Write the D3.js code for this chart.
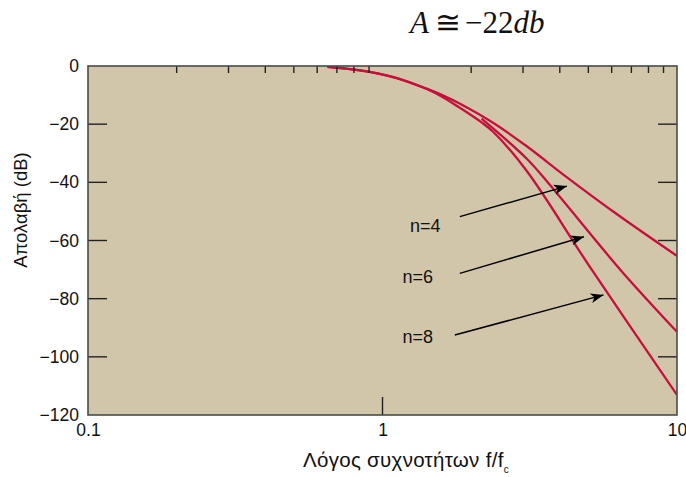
<!DOCTYPE html>
<html>
<head>
<meta charset="utf-8">
<script src="https://cdn.jsdelivr.net/npm/d3@7/dist/d3.min.js"></script>
<style>
  body { margin: 0; background: #fff; }
  svg { display: block; }
</style>
</head>
<body>
<div id="chart"></div>
<script>
// Curve data (f/fc, gain in dB)
const n4Freq = [0.65, 0.838, 1.088, 1.413, 1.609, 1.833, 2.38, 3.09, 4.22, 6.24, 10];
const n4Gain = [-0.3, -1.5, -3.8, -7.8, -10.2, -13.0, -19.6, -27.6, -38.2, -50.9, -65.3];

const n6Freq = [2.17, 3.09, 3.71, 6.44, 10];
const n6Gain = [-18.1, -31.9, -41.0, -70.2, -91.4];

const n8Freq = [0.65, 0.838, 1.088, 1.413, 1.609, 1.833, 2.17, 2.38, 3.09, 5.04, 10];
const n8Gain = [-0.3, -1.5, -3.8, -7.9, -10.8, -14.4, -19.4, -22.7, -36.1, -68.8, -113.1];

// Annotations: label position, arrow tail and tip (f/fc, dB)
const labelText = ["n=4", "n=6", "n=8"];
const labelPos = [[1.24, -57.1], [1.17, -74.6], [1.17, -95.3]];
const arrowTail = [[1.83, -51.8], [1.83, -71.3], [1.76, -92.5]];
const arrowTip = [[4.23, -41.3], [4.83, -58.7], [5.63, -78.7]];

// Axis ticks
const yLabels = [0, -20, -40, -60, -80, -100, -120];
const yInnerTicks = [-20, -40, -60, -80, -100];
const xLabels = [0.1, 1, 10];
const xMinorTicks = [0.2, 0.3, 0.4, 0.5, 0.6, 0.7, 0.8, 0.9, 2, 3, 4, 5, 6, 7, 8, 9];

const width = 686;
const height = 477;
const plot = { left: 88, right: 677, top: 66, bottom: 415 };

const svg = d3.select("#chart").append("svg")
  .attr("width", width)
  .attr("height", height);

const x = d3.scaleLog().domain([0.1, 10]).range([plot.left, plot.right]);
const y = d3.scaleLinear().domain([-120, 0]).range([plot.bottom, plot.top]);

// Plot background
svg.append("rect")
  .attr("x", plot.left)
  .attr("y", plot.top)
  .attr("width", plot.right - plot.left)
  .attr("height", plot.bottom - plot.top)
  .attr("fill", "#d2c6aa");

svg.append("defs").append("clipPath")
  .attr("id", "clip")
  .append("rect")
  .attr("x", plot.left)
  .attr("y", plot.top)
  .attr("width", plot.right - plot.left)
  .attr("height", plot.bottom - plot.top);

svg.append("defs").append("marker")
  .attr("id", "arrow")
  .attr("markerUnits", "userSpaceOnUse")
  .attr("viewBox", "-14 -6 16 12")
  .attr("markerWidth", 16)
  .attr("markerHeight", 12)
  .attr("refX", 0)
  .attr("refY", 0)
  .attr("orient", "auto")
  .append("path")
  .attr("d", "M0,0 L-13,-5 L-9.5,0 L-13,5 Z")
  .attr("fill", "#000");

// Curves
const line = d3.line()
  .x(d => x(d[0]))
  .y(d => y(d[1]))
  .curve(d3.curveCatmullRom.alpha(0.5));

const series = [
  d3.zip(n4Freq, n4Gain),
  d3.zip(n8Freq, n8Gain),
  d3.zip(n6Freq, n6Gain)
];

svg.append("g")
  .attr("clip-path", "url(#clip)")
  .selectAll("path")
  .data(series)
  .enter()
  .append("path")
  .attr("d", line)
  .attr("fill", "none")
  .attr("stroke", "#c60f3b")
  .attr("stroke-width", 2.3);

// Inward ticks
const tickColor = "#222";

svg.append("g")
  .selectAll("line.left")
  .data(yInnerTicks)
  .enter()
  .append("line")
  .attr("x1", plot.left).attr("x2", plot.left + 19)
  .attr("y1", d => y(d)).attr("y2", d => y(d))
  .attr("stroke", tickColor).attr("stroke-width", 1.4);

svg.append("g")
  .selectAll("line.right")
  .data(yInnerTicks)
  .enter()
  .append("line")
  .attr("x1", plot.right - 19).attr("x2", plot.right)
  .attr("y1", d => y(d)).attr("y2", d => y(d))
  .attr("stroke", tickColor).attr("stroke-width", 1.4);

svg.append("g")
  .selectAll("line")
  .data(xMinorTicks)
  .enter()
  .append("line")
  .attr("x1", d => x(d)).attr("x2", d => x(d))
  .attr("y1", plot.top).attr("y2", plot.top + 7)
  .attr("stroke", tickColor).attr("stroke-width", 1.4);

svg.append("line")
  .attr("x1", x(1)).attr("x2", x(1))
  .attr("y1", plot.bottom - 18).attr("y2", plot.bottom)
  .attr("stroke", tickColor).attr("stroke-width", 1.4);

// Frame
svg.append("rect")
  .attr("x", plot.left)
  .attr("y", plot.top)
  .attr("width", plot.right - plot.left)
  .attr("height", plot.bottom - plot.top)
  .attr("fill", "none")
  .attr("stroke", "#4a4a4a")
  .attr("stroke-width", 1.6);

// Tick labels
const yAxis = svg.append("g")
  .attr("transform", "translate(" + plot.left + ",0)")
  .call(d3.axisLeft(y).tickValues(yLabels).tickSize(0).tickPadding(9).tickFormat(d3.format("d")));

const xAxis = svg.append("g")
  .attr("transform", "translate(0," + plot.bottom + ")")
  .call(d3.axisBottom(x).tickValues(xLabels).tickSize(0).tickPadding(9).tickFormat(d => String(d)));

[yAxis, xAxis].forEach(function (ax) {
  ax.select(".domain").remove();
  ax.selectAll("text")
    .style("font-family", "'Liberation Sans', Arial, sans-serif")
    .style("font-size", "17.5px")
    .attr("fill", "#111");
});

// Axis titles
const xTitle = svg.append("text")
  .attr("x", 303)
  .attr("y", 467)
  .style("font-family", "'Liberation Sans', Arial, sans-serif")
  .style("font-size", "20.5px")
  .style("letter-spacing", "0.3px")
  .attr("fill", "#111");
xTitle.append("tspan").text("Λόγος συχνοτήτων f/f");
xTitle.append("tspan")
  .attr("dy", 6)
  .style("font-size", "10px")
  .text("c");

svg.append("text")
  .attr("transform", "translate(26.5,210) rotate(-90)")
  .attr("text-anchor", "middle")
  .style("font-family", "'Liberation Sans', Arial, sans-serif")
  .style("font-size", "18.5px")
  .attr("fill", "#111")
  .text("Απολαβή (dB)");

// Formula title
const title = svg.append("text")
  .attr("x", 410)
  .attr("y", 33)
  .style("font-family", "'Liberation Serif', 'Times New Roman', serif")
  .style("font-size", "31px")
  .attr("fill", "#111");
title.append("tspan").style("font-style", "italic").text("A");
title.append("tspan").attr("dx", 6).text("≅");
title.append("tspan").attr("dx", 4).text("−22");
title.append("tspan").style("font-style", "italic").text("db");

// Annotations
svg.append("g")
  .selectAll("text")
  .data(labelText)
  .enter()
  .append("text")
  .attr("x", (d, i) => x(labelPos[i][0]))
  .attr("y", (d, i) => y(labelPos[i][1]))
  .style("font-family", "'Liberation Sans', Arial, sans-serif")
  .style("font-size", "18px")
  .attr("fill", "#111")
  .text(d => d);

svg.append("g")
  .selectAll("line")
  .data(labelText)
  .enter()
  .append("line")
  .attr("x1", (d, i) => x(arrowTail[i][0]))
  .attr("y1", (d, i) => y(arrowTail[i][1]))
  .attr("x2", (d, i) => x(arrowTip[i][0]))
  .attr("y2", (d, i) => y(arrowTip[i][1]))
  .attr("stroke", "#000")
  .attr("stroke-width", 1.5)
  .attr("marker-end", "url(#arrow)");
</script>
</body>
</html>
